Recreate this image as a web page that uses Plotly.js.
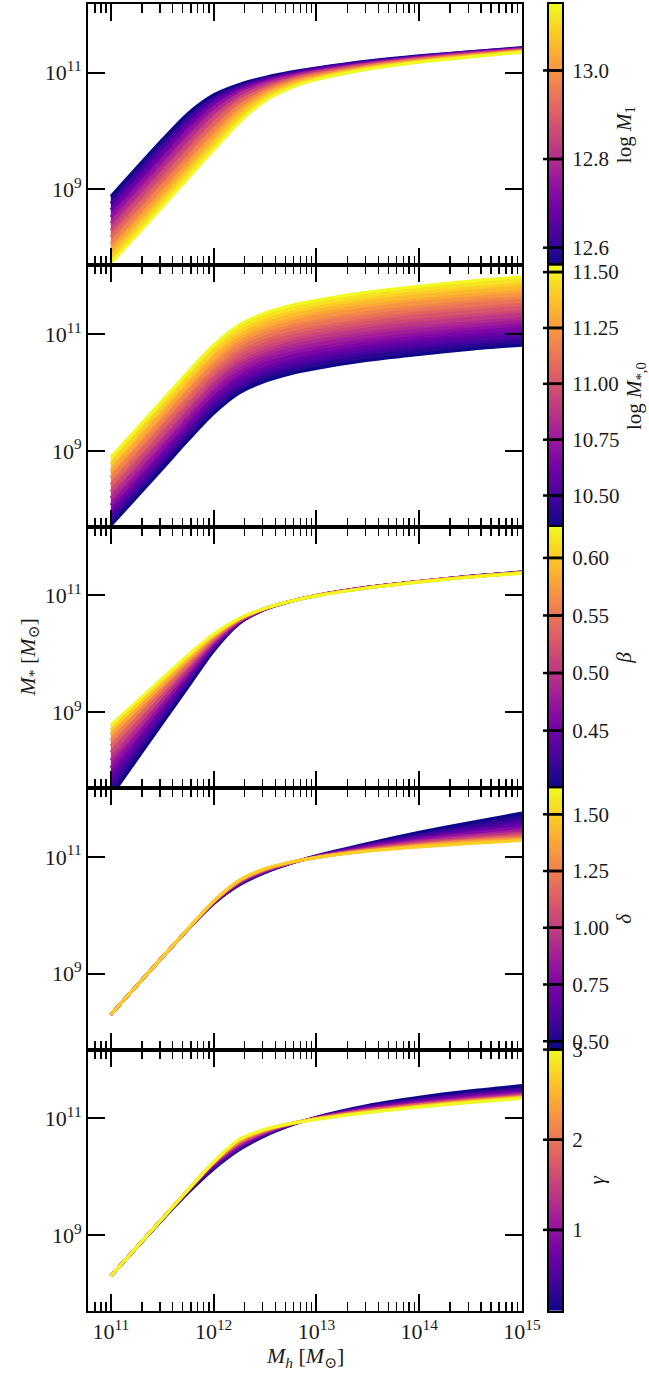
<!DOCTYPE html>
<html><head><meta charset="utf-8">
<script src="https://cdn.plot.ly/plotly-3.0.1.min.js"></script>
<style>html,body{margin:0;padding:0;background:#fff;}#chart{width:649px;height:1373px;}</style>
</head>
<body><div id="chart"></div>
<script>
// ---- data ----
// halo mass grid, log10(Mh / Msun)
const LOG_MH = [11, 11.5, 11.75, 12, 12.25, 12.5, 12.75, 13, 13.5, 14, 14.5, 15];

// panel 1: varying log M1
const LOG_M1 = [12.56, 12.619, 12.678, 12.737, 12.796, 12.855, 12.914, 12.973, 13.032, 13.091, 13.15];
const LOGMS_M1 = [
 [8.88, 9.85, 10.30, 10.62, 10.80, 10.92, 11.01, 11.08, 11.20, 11.29, 11.36, 11.43],
 [8.76, 9.74, 10.20, 10.56, 10.76, 10.90, 10.99, 11.07, 11.19, 11.28, 11.36, 11.42],
 [8.65, 9.62, 10.10, 10.49, 10.72, 10.87, 10.97, 11.05, 11.17, 11.27, 11.35, 11.41],
 [8.53, 9.51, 9.99, 10.41, 10.68, 10.84, 10.95, 11.03, 11.16, 11.26, 11.34, 11.41],
 [8.42, 9.39, 9.88, 10.32, 10.63, 10.81, 10.93, 11.02, 11.15, 11.25, 11.33, 11.40],
 [8.30, 9.28, 9.76, 10.23, 10.57, 10.77, 10.90, 11.00, 11.14, 11.24, 11.32, 11.39],
 [8.19, 9.16, 9.65, 10.12, 10.51, 10.73, 10.88, 10.98, 11.12, 11.23, 11.31, 11.38],
 [8.07, 9.05, 9.54, 10.02, 10.43, 10.69, 10.85, 10.96, 11.11, 11.22, 11.30, 11.38],
 [7.96, 8.93, 9.42, 9.90, 10.35, 10.64, 10.82, 10.93, 11.09, 11.20, 11.29, 11.37],
 [7.84, 8.82, 9.31, 9.79, 10.25, 10.59, 10.78, 10.91, 11.08, 11.19, 11.28, 11.36],
 [7.73, 8.70, 9.19, 9.68, 10.15, 10.52, 10.74, 10.88, 11.06, 11.18, 11.27, 11.35]
];

// panel 2: varying log M*,0
const LOG_MSTAR0 = [10.36, 10.477, 10.594, 10.711, 10.828, 10.945, 11.062, 11.179, 11.296, 11.413, 11.53];
const LOGMS_MSTAR0 = [
 [7.72, 8.69, 9.18, 9.64, 9.99, 10.19, 10.32, 10.41, 10.55, 10.65, 10.74, 10.81],
 [7.84, 8.81, 9.30, 9.76, 10.10, 10.31, 10.43, 10.53, 10.67, 10.77, 10.85, 10.92],
 [7.95, 8.93, 9.41, 9.88, 10.22, 10.42, 10.55, 10.65, 10.78, 10.89, 10.97, 11.04],
 [8.07, 9.04, 9.53, 9.99, 10.34, 10.54, 10.67, 10.76, 10.90, 11.00, 11.09, 11.16],
 [8.19, 9.16, 9.65, 10.11, 10.46, 10.66, 10.79, 10.88, 11.02, 11.12, 11.20, 11.27],
 [8.30, 9.28, 9.76, 10.23, 10.57, 10.77, 10.90, 11.00, 11.14, 11.24, 11.32, 11.39],
 [8.42, 9.40, 9.88, 10.34, 10.69, 10.89, 11.02, 11.11, 11.25, 11.36, 11.44, 11.51],
 [8.54, 9.51, 10.00, 10.46, 10.81, 11.01, 11.14, 11.23, 11.37, 11.47, 11.56, 11.62],
 [8.65, 9.63, 10.11, 10.58, 10.92, 11.12, 11.25, 11.35, 11.49, 11.59, 11.67, 11.74],
 [8.77, 9.75, 10.23, 10.70, 11.04, 11.24, 11.37, 11.46, 11.60, 11.71, 11.79, 11.86],
 [8.89, 9.86, 10.35, 10.81, 11.16, 11.36, 11.49, 11.58, 11.72, 11.82, 11.91, 11.98]
];

// panel 3: varying beta
const BETA = [0.40, 0.4227, 0.4454, 0.4681, 0.4908, 0.5135, 0.5362, 0.5589, 0.5816, 0.6043, 0.627];
const LOGMS_BETA = [
 [7.56, 8.81, 9.43, 10.05, 10.52, 10.76, 10.90, 11.00, 11.14, 11.24, 11.33, 11.40],
 [7.74, 8.92, 9.51, 10.09, 10.53, 10.76, 10.90, 11.00, 11.14, 11.24, 11.33, 11.40],
 [7.90, 9.03, 9.59, 10.13, 10.54, 10.77, 10.90, 11.00, 11.14, 11.24, 11.33, 11.39],
 [8.05, 9.12, 9.65, 10.17, 10.55, 10.77, 10.90, 11.00, 11.14, 11.24, 11.32, 11.39],
 [8.18, 9.20, 9.71, 10.20, 10.56, 10.77, 10.90, 11.00, 11.14, 11.24, 11.32, 11.39],
 [8.31, 9.28, 9.77, 10.23, 10.57, 10.77, 10.90, 11.00, 11.14, 11.24, 11.32, 11.39],
 [8.42, 9.35, 9.81, 10.25, 10.58, 10.78, 10.90, 11.00, 11.13, 11.24, 11.32, 11.39],
 [8.52, 9.42, 9.86, 10.28, 10.59, 10.78, 10.90, 11.00, 11.13, 11.24, 11.32, 11.39],
 [8.62, 9.47, 9.90, 10.30, 10.60, 10.78, 10.90, 11.00, 11.13, 11.23, 11.32, 11.39],
 [8.70, 9.53, 9.94, 10.32, 10.60, 10.78, 10.90, 11.00, 11.13, 11.23, 11.32, 11.39],
 [8.78, 9.58, 9.98, 10.34, 10.61, 10.78, 10.90, 10.99, 11.13, 11.23, 11.31, 11.38]
];

// panel 4: varying delta
const DELTA = [0.463, 0.5667, 0.6704, 0.7741, 0.8778, 0.9815, 1.0852, 1.1889, 1.2926, 1.3963, 1.5];
const LOGMS_DELTA = [
 [8.30, 9.28, 9.76, 10.20, 10.52, 10.73, 10.89, 11.02, 11.23, 11.42, 11.59, 11.75],
 [8.30, 9.28, 9.76, 10.20, 10.53, 10.74, 10.89, 11.01, 11.21, 11.37, 11.51, 11.64],
 [8.30, 9.28, 9.76, 10.21, 10.54, 10.75, 10.89, 11.01, 11.19, 11.33, 11.45, 11.56],
 [8.30, 9.28, 9.76, 10.22, 10.55, 10.76, 10.90, 11.00, 11.17, 11.30, 11.41, 11.50],
 [8.30, 9.28, 9.76, 10.22, 10.56, 10.76, 10.90, 11.00, 11.15, 11.27, 11.37, 11.45],
 [8.30, 9.28, 9.76, 10.23, 10.57, 10.77, 10.90, 11.00, 11.14, 11.25, 11.34, 11.41],
 [8.30, 9.28, 9.76, 10.23, 10.58, 10.78, 10.90, 11.00, 11.13, 11.23, 11.31, 11.38],
 [8.30, 9.28, 9.76, 10.23, 10.58, 10.78, 10.90, 10.99, 11.12, 11.21, 11.29, 11.35],
 [8.30, 9.28, 9.76, 10.24, 10.59, 10.79, 10.91, 10.99, 11.11, 11.20, 11.27, 11.32],
 [8.30, 9.28, 9.77, 10.24, 10.60, 10.79, 10.91, 10.99, 11.10, 11.19, 11.25, 11.30],
 [8.30, 9.28, 9.77, 10.24, 10.60, 10.80, 10.91, 10.99, 11.10, 11.17, 11.23, 11.28]
];

// panel 5: varying gamma
const GAMMA = [0.1, 0.39, 0.68, 0.97, 1.26, 1.55, 1.84, 2.13, 2.42, 2.71, 3.0];
const LOGMS_GAMMA = [
 [8.30, 9.26, 9.72, 10.13, 10.46, 10.70, 10.88, 11.02, 11.22, 11.36, 11.47, 11.56],
 [8.30, 9.27, 9.74, 10.16, 10.48, 10.72, 10.89, 11.01, 11.20, 11.32, 11.42, 11.50],
 [8.30, 9.28, 9.75, 10.18, 10.51, 10.73, 10.89, 11.01, 11.18, 11.30, 11.39, 11.46],
 [8.30, 9.28, 9.76, 10.20, 10.53, 10.75, 10.90, 11.00, 11.16, 11.27, 11.36, 11.43],
 [8.30, 9.28, 9.76, 10.22, 10.55, 10.76, 10.90, 11.00, 11.15, 11.25, 11.34, 11.41],
 [8.30, 9.28, 9.76, 10.23, 10.57, 10.77, 10.90, 11.00, 11.14, 11.24, 11.32, 11.39],
 [8.30, 9.28, 9.76, 10.24, 10.59, 10.78, 10.90, 10.99, 11.13, 11.23, 11.31, 11.38],
 [8.30, 9.28, 9.77, 10.24, 10.60, 10.79, 10.91, 10.99, 11.12, 11.21, 11.30, 11.37],
 [8.30, 9.28, 9.77, 10.25, 10.62, 10.80, 10.91, 10.99, 11.11, 11.21, 11.29, 11.36],
 [8.30, 9.28, 9.77, 10.25, 10.63, 10.81, 10.91, 10.99, 11.10, 11.20, 11.28, 11.35],
 [8.30, 9.28, 9.77, 10.25, 10.64, 10.81, 10.91, 10.98, 11.10, 11.19, 11.27, 11.34]
];

// colour-bar ranges and ticks
const CB_MIN = [12.56, 10.36, 0.40, 0.463, 0.1];
const CB_MAX = [13.15, 11.53, 0.627, 1.615, 3.0];
const CB_TITLES = ['log <i>M</i><sub>1</sub>', 'log <i>M</i><sub>*,0</sub>', '<i>β</i>', '<i>δ</i>', '<i>γ</i>'];
const CB_TICKVALS = [[12.6, 12.8, 13.0], [10.5, 10.75, 11.0, 11.25, 11.5], [0.45, 0.50, 0.55, 0.60], [0.5, 0.75, 1.0, 1.25, 1.5], [1, 2, 3]];
const CB_TICKTEXT = [['12.6', '12.8', '13.0'], ['10.50', '10.75', '11.00', '11.25', '11.50'], ['0.45', '0.50', '0.55', '0.60'], ['0.50', '0.75', '1.00', '1.25', '1.50'], ['1', '2', '3']];

const X_TICKVALS = [1e11, 1e12, 1e13, 1e14, 1e15];
const X_TICKTEXT = ['10<sup>11</sup>', '10<sup>12</sup>', '10<sup>13</sup>', '10<sup>14</sup>', '10<sup>15</sup>'];
const Y_TICKVALS = [1e9, 1e11];
const Y_TICKTEXT = ['10<sup>9</sup>', '10<sup>11</sup>'];

// ---- style ----
const PLASMA = [[0, '#0d0887'], [0.111, '#46039f'], [0.222, '#7201a8'], [0.333, '#9c179e'], [0.444, '#bd3786'],
                [0.556, '#d8576b'], [0.667, '#ed7953'], [0.778, '#fb9f3a'], [0.889, '#fdca26'], [1, '#f0f921']];
const FONT = 'Liberation Serif, DejaVu Serif, serif';
const TXT = '#1a1a1a';

function hex2rgb(h) { return [parseInt(h.slice(1, 3), 16), parseInt(h.slice(3, 5), 16), parseInt(h.slice(5, 7), 16)]; }
function plasma(t) {
  t = Math.max(0, Math.min(1, t));
  for (let i = 1; i < PLASMA.length; i++) {
    if (t <= PLASMA[i][0]) {
      const a = PLASMA[i - 1], b = PLASMA[i];
      const f = (t - a[0]) / (b[0] - a[0]);
      const ca = hex2rgb(a[1]), cb = hex2rgb(b[1]);
      return 'rgb(' + ca.map((v, j) => Math.round(v + (cb[j] - v) * f)).join(',') + ')';
    }
  }
  return PLASMA[PLASMA.length - 1][1];
}

const PARAMS = [LOG_M1, LOG_MSTAR0, BETA, DELTA, GAMMA];
const CURVES = [LOGMS_M1, LOGMS_MSTAR0, LOGMS_BETA, LOGMS_DELTA, LOGMS_GAMMA];

// geometry (pixels): plot area starts at x=88; main panels to x=522; colour bars 549..562
const PLOT_W = 649 - 88;
const MAIN_DOM = [0, (522 - 88) / PLOT_W];
const CB_DOM = [(549 - 88) / PLOT_W, (562 - 88) / PLOT_W];
const CB_TICK_X = [(543 - 88) / PLOT_W, (562 - 88) / PLOT_W];

const X_RANGE = [Math.log10(6e10), 15];
const Y_RANGE = [Math.log10(5e7), Math.log10(1.5e12)];
const MINOR_X = [];
for (let d = 10; d <= 14; d++) for (let k = 2; k <= 9; k++) { const v = k * Math.pow(10, d); if (Math.log10(v) > X_RANGE[0] && Math.log10(v) < X_RANGE[1]) MINOR_X.push(v); }

const traces = [];
const shapes = [];
const layout = {
  width: 649, height: 1373,
  margin: {l: 88, r: 0, t: 4, b: 62},
  paper_bgcolor: '#fff', plot_bgcolor: 'rgba(0,0,0,0)',
  showlegend: false,
  font: {family: FONT, color: TXT, size: 22},
  annotations: [],
  shapes: shapes
};

const xs = LOG_MH.map(v => Math.pow(10, v));
for (let p = 0; p < 5; p++) {
  const n = p + 1, sfx = n === 1 ? '' : String(n);
  const xa = 'x' + sfx, ya = 'y' + sfx;
  const cmin = CB_MIN[p], cmax = CB_MAX[p];
  const par = PARAMS[p];
  par.forEach((v, k) => {
    const c = plasma((v - cmin) / (cmax - cmin));
    const cf = k === 0 ? c : plasma(((v + par[k - 1]) / 2 - cmin) / (cmax - cmin));
    traces.push({
      type: 'scatter', mode: 'lines', x: xs, y: CURVES[p][k].map(v => Math.pow(10, v)),
      xaxis: xa, yaxis: ya,
      line: {color: c, width: 3, shape: 'spline', smoothing: 0.8},
      fill: k === 0 ? 'none' : 'tonexty', fillcolor: cf,
      hoverinfo: 'skip', showlegend: false
    });
  });
  const top = 1 - p / 5, bot = 1 - (p + 1) / 5;

  // colour bar drawn as its own small subplot
  const cn = p + 6, cxa = 'x' + cn, cya = 'y' + cn;
  traces.push({
    type: 'heatmap', x: [0, 1], y: [cmin, cmax], z: [[cmin, cmin], [cmax, cmax]],
    zmin: cmin, zmax: cmax, colorscale: PLASMA, zsmooth: 'best', showscale: false,
    xaxis: cxa, yaxis: cya, hoverinfo: 'skip'
  });
  // colour-bar tick marks: across the bar, plus a short stub on its left
  CB_TICKVALS[p].forEach(v => {
    traces.push({
      type: 'scatter', mode: 'lines', x: [0, 1], y: [v, v], xaxis: cxa, yaxis: cya,
      line: {color: '#000', width: 2.5}, hoverinfo: 'skip', showlegend: false
    });
    const py = bot + (v - cmin) / (cmax - cmin) * (top - bot);
    shapes.push({type: 'line', layer: 'above', xref: 'paper', yref: 'paper', x0: CB_TICK_X[0], x1: CB_TICK_X[1], y0: py, y1: py,
                 line: {color: '#000', width: 2.5}});
  });
  layout['xaxis' + cn] = {
    domain: CB_DOM, range: [0, 1], anchor: cya, showline: true, mirror: true, linewidth: 2, linecolor: '#000',
    ticks: '', showticklabels: false, showgrid: false, zeroline: false, fixedrange: true
  };
  layout['yaxis' + cn] = {
    domain: [bot, top], range: [cmin, cmax], anchor: cxa, side: 'right',
    showline: true, mirror: true, linewidth: 2, linecolor: '#000',
    ticks: 'inside', ticklen: 13, tickwidth: 2, tickcolor: '#000', ticklabelstandoff: 4,
    tickmode: 'array', tickvals: CB_TICKVALS[p], ticktext: CB_TICKTEXT[p],
    tickfont: {family: FONT, size: 21, color: TXT},
    title: {text: CB_TITLES[p], font: {family: FONT, size: 21, color: TXT}, standoff: 8},
    showgrid: false, zeroline: false, fixedrange: true
  };

  layout['xaxis' + sfx] = {
    type: 'log', range: X_RANGE, domain: MAIN_DOM, anchor: ya,
    showline: true, linewidth: 2, linecolor: '#000', mirror: 'allticks',
    ticks: 'inside', ticklen: 17, tickwidth: 2, tickcolor: '#000',
    tickmode: 'array', tickvals: X_TICKVALS, ticktext: X_TICKTEXT,
    showticklabels: n === 5, tickfont: {family: FONT, size: 22, color: TXT},
    showgrid: false, zeroline: false,
    minor: {tickmode: 'array', tickvals: MINOR_X, ticks: 'inside', ticklen: 9, tickwidth: 1.5, tickcolor: '#000', showgrid: false}
  };
  layout['yaxis' + sfx] = {
    type: 'log', range: Y_RANGE, domain: [bot, top], anchor: xa,
    showline: true, linewidth: 2, linecolor: '#000', mirror: 'allticks',
    ticks: 'inside', ticklen: 17, tickwidth: 2, tickcolor: '#000',
    tickmode: 'array', tickvals: Y_TICKVALS, ticktext: Y_TICKTEXT,
    tickfont: {family: FONT, size: 22, color: TXT},
    showgrid: false, zeroline: false
  };
}

layout.annotations.push({
  xref: 'paper', yref: 'paper', x: (28 - 88) / PLOT_W, y: 0.5, xanchor: 'center', yanchor: 'middle',
  text: '<i>M</i><sub>*</sub> [<i>M</i><sub>⊙</sub>]', textangle: -90, showarrow: false,
  font: {family: FONT, size: 22, color: TXT}
});
layout.annotations.push({
  xref: 'paper', yref: 'paper', x: (305 - 88) / PLOT_W, y: -(1357 - 1311) / 1307, xanchor: 'center', yanchor: 'middle',
  text: '<i>M</i><sub><i>h</i></sub> [<i>M</i><sub>⊙</sub>]', showarrow: false,
  font: {family: FONT, size: 22, color: TXT}
});

Plotly.newPlot('chart', traces, layout, {staticPlot: true, displayModeBar: false});
</script>
</body></html>
